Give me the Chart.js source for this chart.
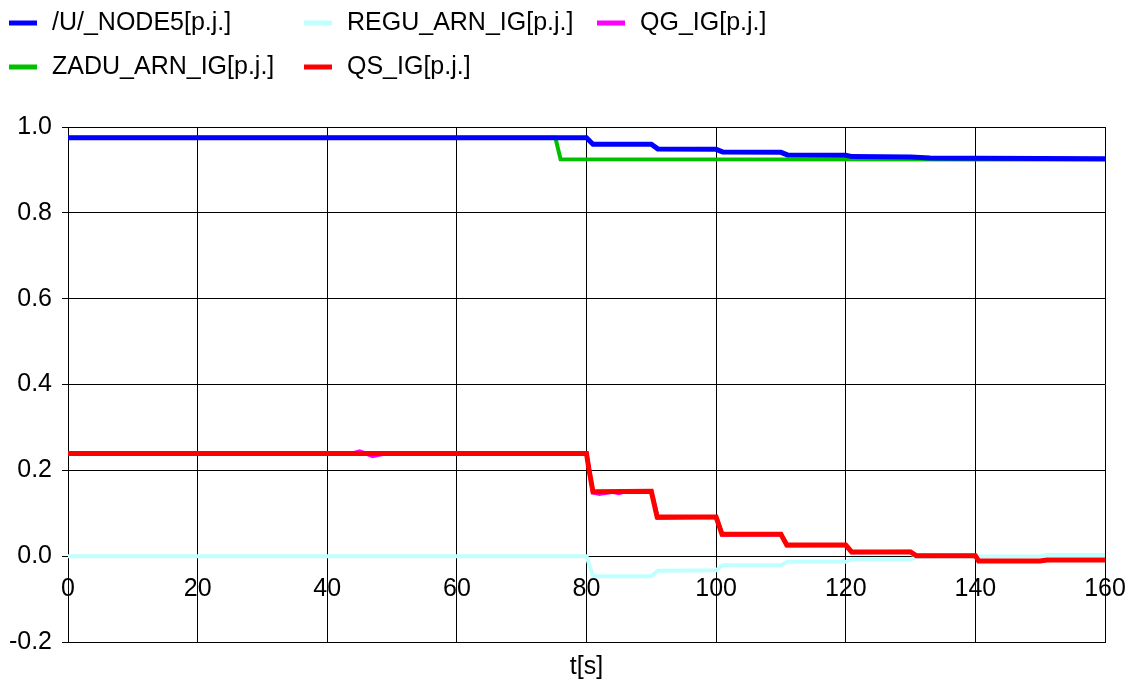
<!DOCTYPE html>
<html>
<head>
<meta charset="utf-8">
<script src="https://cdn.jsdelivr.net/npm/chart.js@4.4.1/dist/chart.umd.min.js"></script>
<style>
  html, body { margin: 0; padding: 0; background: #fff; }
  #wrap { width: 1128px; height: 682px; }
</style>
</head>
<body>
<div id="wrap"><canvas id="chart" width="1128" height="682"></canvas></div>
<script>
// series names (legend order: column-major, as in the picture)
const seriesNames = ['/U/_NODE5[p.j.]', 'ZADU_ARN_IG[p.j.]', 'REGU_ARN_IG[p.j.]', 'QS_IG[p.j.]', 'QG_IG[p.j.]'];
const xTicks = [0, 20, 40, 60, 80, 100, 120, 140, 160];
const yTicks = [-0.2, 0, 0.2, 0.4, 0.6, 0.8, 1.0];

// [t, value] pairs
const node5 = [
    [0, 0.975], [80, 0.975], [81, 0.960], [90, 0.960], [91, 0.949], [100, 0.948],
    [101, 0.942], [110, 0.941], [111, 0.935], [120, 0.934], [121, 0.931], [130, 0.930],
    [133, 0.928], [140, 0.927], [160, 0.926]
];
const zaduArn = [
    [0, 0.975], [75.2, 0.975], [76, 0.925], [160, 0.924]
];
const reguArn = [
    [0, 0], [80, 0], [81, -0.047], [90, -0.047], [91, -0.034], [100, -0.033],
    [101, -0.021], [110, -0.021], [111, -0.013], [120, -0.013], [121, -0.007], [130, -0.007],
    [131, -0.002], [140, -0.001], [150, 0], [151, 0.003], [160, 0.003]
];
const qs = [
    [0, 0.239], [80, 0.239], [80.4, 0.2], [81, 0.150], [90, 0.151], [90.9, 0.091],
    [100, 0.091], [100.9, 0.051], [110, 0.051], [110.9, 0.026], [120, 0.026], [120.9, 0.010],
    [130, 0.010], [130.9, 0.001], [140, 0.001], [140.5, -0.011], [150, -0.011], [151, -0.009],
    [160, -0.009]
];
const qg = [
    [0, 0.239], [44, 0.240], [45, 0.244], [46, 0.239], [47, 0.233], [48, 0.236], [49, 0.239],
    [80, 0.239], [81, 0.148], [82, 0.145], [84, 0.150], [85, 0.147], [86, 0.151], [90, 0.151],
    [91, 0.089], [100, 0.091], [101, 0.050], [110, 0.051], [111, 0.025], [120, 0.026],
    [121, 0.009], [130, 0.010], [131, 0.001], [140, 0.001], [140.5, -0.011], [150, -0.011],
    [151, -0.009], [160, -0.009]
];

const FONT = { family: '"Liberation Sans", Arial, sans-serif', size: 25 };
const toXY = arr => arr.map(([x, y]) => ({ x, y }));

// legend drawn in fixed columns like the original
const legendSlots = [
    { x: 9, y: 23 },   // NODE5
    { x: 9, y: 67 },   // ZADU
    { x: 304, y: 23 }, // REGU
    { x: 304, y: 67 }, // QS
    { x: 597, y: 23 }  // QG
];

const columnLegend = {
    id: 'columnLegend',
    afterDraw(chart) {
        const ctx = chart.ctx;
        ctx.save();
        ctx.font = `${FONT.size}px ${FONT.family}`;
        ctx.textBaseline = 'middle';
        ctx.textAlign = 'left';
        chart.data.datasets.forEach((ds, i) => {
            const slot = legendSlots[i];
            ctx.strokeStyle = ds.borderColor;
            ctx.lineWidth = 5;
            ctx.beginPath();
            ctx.moveTo(slot.x, slot.y);
            ctx.lineTo(slot.x + 28, slot.y);
            ctx.stroke();
            ctx.fillStyle = '#000';
            ctx.fillText(ds.label, slot.x + 43, slot.y);
        });
        ctx.restore();
    }
};

// x labels sit just under the y=0 line, inside the plot
const zeroAxisLabels = {
    id: 'zeroAxisLabels',
    afterDatasetsDraw(chart) {
        const { ctx, scales: { x, y } } = chart;
        const y0 = y.getPixelForValue(0);
        ctx.save();
        ctx.font = `${FONT.size}px ${FONT.family}`;
        ctx.fillStyle = '#000';
        ctx.textAlign = 'center';
        ctx.textBaseline = 'middle';
        xTicks.forEach(v => ctx.fillText(String(v), x.getPixelForValue(v), y0 + 33));
        ctx.restore();
    }
};

new Chart(document.getElementById('chart'), {
    type: 'line',
    data: {
        datasets: [
            { label: seriesNames[0], data: toXY(node5), borderColor: '#0000ff', borderWidth: 5, order: 0 },
            { label: seriesNames[1], data: toXY(zaduArn), borderColor: '#00c000', borderWidth: 4, order: 2 },
            { label: seriesNames[2], data: toXY(reguArn), borderColor: '#c0ffff', borderWidth: 4, order: 4 },
            { label: seriesNames[3], data: toXY(qs), borderColor: '#ff0000', borderWidth: 5, order: 1 },
            { label: seriesNames[4], data: toXY(qg), borderColor: '#ff00ff', borderWidth: 4, order: 3 }
        ].map(ds => ({ ...ds, pointRadius: 0, tension: 0, fill: false }))
    },
    options: {
        responsive: false,
        animation: false,
        layout: { padding: { top: 127, right: 23, left: 0, bottom: 0 } },
        scales: {
            x: {
                type: 'linear',
                min: 0,
                max: 160,
                afterBuildTicks: s => { s.ticks = xTicks.map(value => ({ value })); },
                ticks: { display: false },
                grid: { color: '#000', lineWidth: 1, drawTicks: false },
                border: { color: '#000', width: 1 },
                title: { display: true, text: 't[s]', color: '#000', font: FONT, padding: { top: 0, bottom: 0 } },
                afterFit: s => { s.height = 40; }
            },
            y: {
                min: -0.2,
                max: 1.0,
                afterBuildTicks: s => { s.ticks = yTicks.map(value => ({ value })); },
                ticks: {
                    color: '#000',
                    font: FONT,
                    padding: 10,
                    callback: v => (Math.abs(v) < 1e-9 ? 0 : v).toFixed(1)
                },
                grid: { color: '#000', lineWidth: 1, tickLength: 6 },
                border: { color: '#000', width: 1 },
                afterFit: s => { s.width = 68; }
            }
        },
        plugins: {
            legend: { display: false },
            tooltip: { enabled: false }
        }
    },
    plugins: [columnLegend, zeroAxisLabels]
});
</script>
</body>
</html>
